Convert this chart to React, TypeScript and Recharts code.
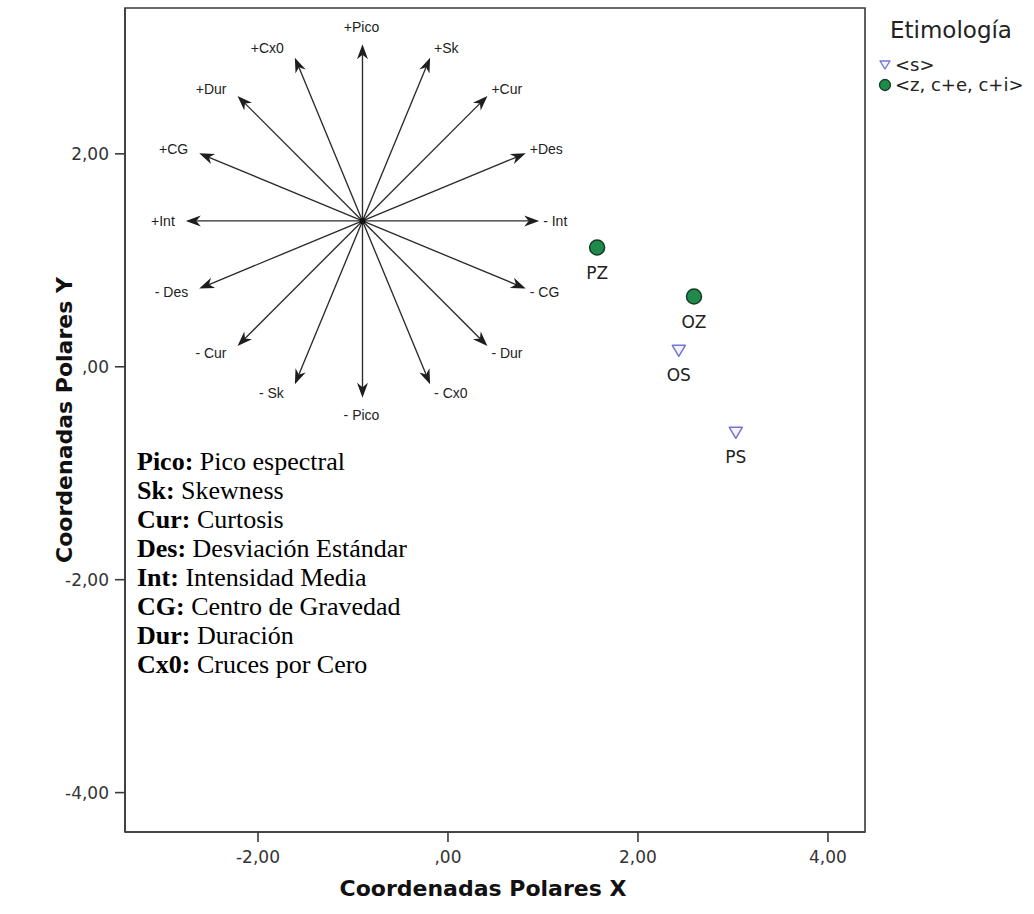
import React from 'react';
import { ScatterChart, Scatter, XAxis, YAxis, ReferenceLine, ReferenceArea } from 'recharts';

// ---- data ----
const sPoints = [
  { name: 'OS', x: 2.43, y: 0.15 },
  { name: 'PS', x: 3.03, y: -0.62 },
];
const zPoints = [
  { name: 'PZ', x: 1.57, y: 1.12 },
  { name: 'OZ', x: 2.59, y: 0.66 },
];

const xTicks = [-2, 0, 2, 4];
const xTickLabels = ['-2,00', ',00', '2,00', '4,00'];
const yTicks = [-4, -2, 0, 2];
const yTickLabels = ['-4,00', '-2,00', ',00', '2,00'];
const xDomain = [-3.4, 4.39];
const yDomain = [-4.37, 3.37];

const xTitle = 'Coordenadas Polares X';
const yTitle = 'Coordenadas Polares Y';
const legendTitle = 'Etimología';
const seriesNames = ['<s>', '<z, c+e, c+i>'];

// star diagram (annotation) in data units
const starCenter = { x: -0.9, y: 1.37 };
const starRadiusX = 1.86;
const starRadiusY = 1.66;
const arrowAngles = [90, 67.5, 45, 22.5, 0, -22.5, -45, -67.5, -90, -112.5, -135, -157.5, 180, 157.5, 135, 112.5];
const arrowLabels = ['+Pico', '+Sk', '+Cur', '+Des', '- Int', '- CG', '- Dur', '- Cx0', '- Pico', '- Sk', '- Cur', '- Des', '+Int', '+CG', '+Dur', '+Cx0'];

const glossaryKeys = ['Pico:', 'Sk:', 'Cur:', 'Des:', 'Int:', 'CG:', 'Dur:', 'Cx0:'];
const glossaryValues = ['Pico espectral', 'Skewness', 'Curtosis', 'Desviación Estándar', 'Intensidad Media', 'Centro de Gravedad', 'Duración', 'Cruces por Cero'];

// ---- styles ----
const SANS = 'DejaVu Sans, Verdana, sans-serif';
const AXIS = '#3a3a3a';
const GREEN = '#1f8a4c';
const GREEN_EDGE = '#143d22';
const TRI = '#7474d6';

const makeArrowShape = (label: string) => (props: any) => {
  const { x1, y1, x2, y2 } = props;
  const dx = x2 - x1;
  const dy = y2 - y1;
  const len = Math.hypot(dx, dy) || 1;
  const ux = dx / len;
  const uy = dy / len;
  const nx = -uy;
  const ny = ux;
  const hl = 15;
  const hw = 5.5;
  const notch = 10.5;
  const bx = x2 - ux * hl;
  const by = y2 - uy * hl;
  const pts = `${x2},${y2} ${bx + nx * hw},${by + ny * hw} ${x2 - ux * notch},${y2 - uy * notch} ${bx - nx * hw},${by - ny * hw}`;
  const right = ux > 0.2;
  const left = ux < -0.2;
  const anchor = right ? 'start' : left ? 'end' : 'middle';
  const lx = right ? x2 + 4 : left ? x2 - 11 : x2 - 1;
  const cyText = y2 + (right || left ? uy * 10 : uy * 17);
  return (
    <g>
      <line x1={x1} y1={y1} x2={x2 - ux * notch} y2={y2 - uy * notch} stroke="#2b2b2b" strokeWidth={1.35} />
      <polygon points={pts} fill="#1e1e1e" />
      <text x={lx} y={cyText + 5} textAnchor={anchor} fontSize={14} fontFamily="Liberation Sans, Arial, sans-serif" fill="#222">
        {label}
      </text>
    </g>
  );
};

const CircleShape = (props: any) => {
  const { cx, cy, payload } = props;
  return (
    <g>
      <circle cx={cx} cy={cy} r={7.5} fill={GREEN} stroke={GREEN_EDGE} strokeWidth={1.5} />
      <text x={cx} y={cy + 31} textAnchor="middle" fontSize={17} fontFamily={SANS} fill="#222">
        {payload.name}
      </text>
    </g>
  );
};

const TriangleShape = (props: any) => {
  const { cx, cy, payload } = props;
  const w = 6.5;
  const h = 5.5;
  return (
    <g>
      <polygon
        points={`${cx - w},${cy - h} ${cx + w},${cy - h} ${cx},${cy + h}`}
        fill="#f4f4ff"
        stroke={TRI}
        strokeWidth={1.5}
        strokeLinejoin="round"
      />
      <text x={cx} y={cy + 30} textAnchor="middle" fontSize={17} fontFamily={SANS} fill="#222">
        {payload.name}
      </text>
    </g>
  );
};

export default function App() {
  return (
    <div style={{ position: 'absolute', left: 0, top: 0, width: 1034, height: 914, background: '#fff' }}>
      <ScatterChart width={1034} height={914} margin={{ top: 8, right: 169, bottom: 0, left: 0 }}>
        <XAxis
          type="number"
          dataKey="x"
          domain={xDomain}
          ticks={xTicks}
          allowDataOverflow
          height={82}
          tickSize={10}
          tickMargin={9}
          tickFormatter={(v: number) => xTickLabels[xTicks.indexOf(v)]}
          axisLine={{ stroke: AXIS, strokeWidth: 1.6 }}
          tickLine={{ stroke: AXIS, strokeWidth: 1.6 }}
          tick={{ fontSize: 17, fill: '#333', fontFamily: SANS }}
          label={{
            content: (p: any) => {
              const vb = p.viewBox;
              return (
                <text x={vb.x + vb.width / 2 - 12} y={vb.y + 64} textAnchor="middle" fontSize={22} fontWeight="bold" fontFamily={SANS} fill="#111">
                  {xTitle}
                </text>
              );
            },
          }}
        />
        <YAxis
          type="number"
          dataKey="y"
          domain={yDomain}
          ticks={yTicks}
          allowDataOverflow
          width={125}
          tickSize={10}
          tickMargin={6}
          tickFormatter={(v: number) => yTickLabels[yTicks.indexOf(v)]}
          axisLine={{ stroke: AXIS, strokeWidth: 1.6 }}
          tickLine={{ stroke: AXIS, strokeWidth: 1.6 }}
          tick={{ fontSize: 17, fill: '#333', fontFamily: SANS }}
          label={{
            content: (p: any) => {
              const vb = p.viewBox;
              const cx = 72;
              const cy = vb.y + vb.height / 2;
              return (
                <text x={cx} y={cy} transform={`rotate(-90, ${cx}, ${cy})`} textAnchor="middle" fontSize={22} fontWeight="bold" fontFamily={SANS} fill="#111">
                  {yTitle}
                </text>
              );
            },
          }}
        />
        <ReferenceArea
          x1={xDomain[0]}
          x2={xDomain[1]}
          y1={yDomain[0]}
          y2={yDomain[1]}
          fill="none"
          fillOpacity={0}
          stroke={AXIS}
          strokeWidth={1.6}
          ifOverflow="extendDomain"
        />
        {arrowAngles.map((a, i) => {
          const rad = (a * Math.PI) / 180;
          const tip = { x: starCenter.x + Math.cos(rad) * starRadiusX, y: starCenter.y + Math.sin(rad) * starRadiusY };
          return (
            <ReferenceLine
              key={arrowLabels[i]}
              segment={[
                { x: starCenter.x, y: starCenter.y },
                { x: tip.x, y: tip.y },
              ]}
              shape={makeArrowShape(arrowLabels[i])}
              ifOverflow="visible"
            />
          );
        })}
        <ReferenceLine
          segment={[
            { x: starCenter.x, y: starCenter.y },
            { x: starCenter.x, y: starCenter.y },
          ]}
          shape={(p: any) => <circle cx={p.x1} cy={p.y1} r={3} fill="#111" />}
          ifOverflow="visible"
        />
        <Scatter name={seriesNames[0]} data={sPoints} shape={TriangleShape} isAnimationActive={false} />
        <Scatter name={seriesNames[1]} data={zPoints} shape={CircleShape} isAnimationActive={false} />
      </ScatterChart>

      {/* glossary */}
      <div
        style={{
          position: 'absolute',
          left: 137,
          top: 447,
          fontFamily: 'Liberation Serif, Times New Roman, serif',
          fontSize: 26,
          lineHeight: '29px',
          color: '#000',
          whiteSpace: 'nowrap',
        }}
      >
        {glossaryKeys.map((k, i) => (
          <div key={k}>
            <b>{k}</b> {glossaryValues[i]}
          </div>
        ))}
      </div>

      {/* legend */}
      <div style={{ position: 'absolute', left: 890, top: 16, fontFamily: SANS, color: '#222', whiteSpace: 'nowrap' }}>
        <div style={{ fontSize: 23, lineHeight: '29px' }}>{legendTitle}</div>
        <div style={{ position: 'relative', marginTop: 10, fontSize: 18, lineHeight: '20px', marginLeft: -12 }}>
          <div style={{ display: 'flex', alignItems: 'center' }}>
            <svg width={14} height={14} style={{ marginRight: 3 }}>
              <polygon points="2,3 12,3 7,11" fill="#f4f4ff" stroke={TRI} strokeWidth={1.4} strokeLinejoin="round" />
            </svg>
            <span>{seriesNames[0]}</span>
          </div>
          <div style={{ display: 'flex', alignItems: 'center' }}>
            <svg width={14} height={14} style={{ marginRight: 3 }}>
              <circle cx={7} cy={7} r={5.5} fill={GREEN} stroke={GREEN_EDGE} strokeWidth={1.3} />
            </svg>
            <span>{seriesNames[1]}</span>
          </div>
        </div>
      </div>
    </div>
  );
}
